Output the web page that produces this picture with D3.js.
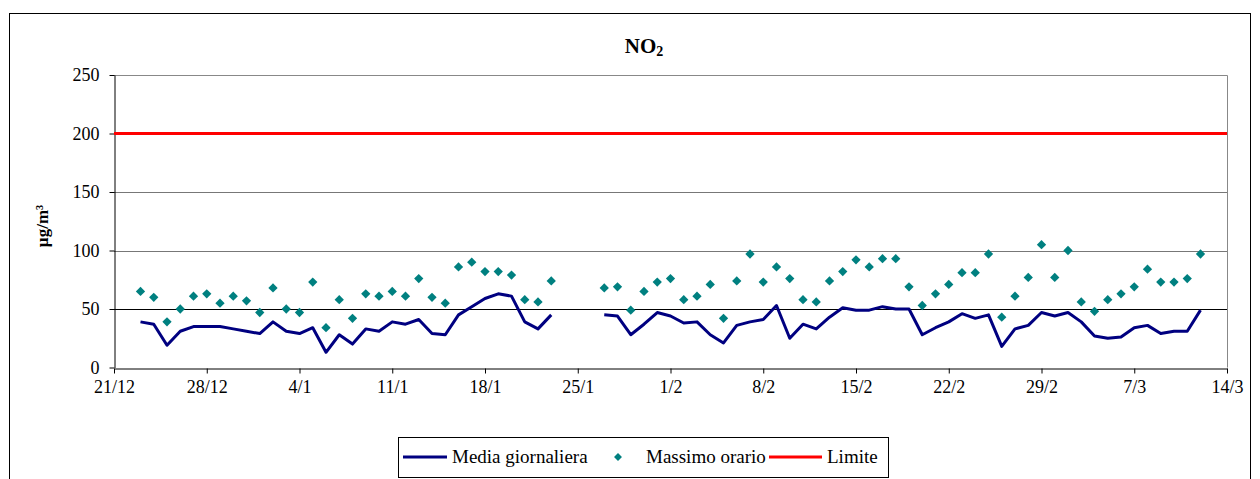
<!DOCTYPE html>
<html><head><meta charset="utf-8">
<script src="https://cdn.jsdelivr.net/npm/d3@7"></script>
<style>
html,body{margin:0;padding:0;background:#fff;}
svg, svg text{font-family:"Liberation Serif","Times New Roman",serif !important;}
</style></head>
<body><svg id="c" width="1260" height="479"></svg>
<script>
// ---- data ----
const startDay = "2007-12-23"; // first observation
const axisStart = "2007-12-21", axisEnd = "2008-03-14";
const tickLabels = ["21/12","28/12","4/1","11/1","18/1","25/1","1/2","8/2","15/2","22/2","29/2","7/3","14/3"];
const yTicks = [0,50,100,150,200,250];
const mediaGiornaliera = [39,37,19,31,35,35,35,33,31,29,39,31,29,34,13,28,20,33,31,39,37,41,29,28,45,52,59,63,61,39,33,45,
  null,null,null,
  45,44,28,37,47,44,38,39,28,21,36,39,41,53,25,37,33,43,51,49,49,52,50,50,28,34,39,46,42,45,18,33,36,47,44,47,39,27,25,26,34,36,29,31,31,49];
const massimoOrario = [65,60,39,50,61,63,55,61,57,47,68,50,47,73,34,58,42,63,61,65,61,76,60,55,86,90,82,82,79,58,56,74,
  null,null,null,
  68,69,49,65,73,76,58,61,71,42,74,97,73,86,76,58,56,74,82,92,86,93,93,69,53,63,71,81,81,97,43,61,77,105,77,100,56,48,58,63,69,84,73,73,76,97];
const limite = 200;
const seriesNames = ["Media giornaliera","Massimo orario","Limite"];

// ---- build ----
const parse = d3.timeParse("%Y-%m-%d");
const d0 = parse(startDay);
const rows = mediaGiornaliera.map((v,i)=>({date:d3.timeDay.offset(d0,i), media:v, massimo:massimoOrario[i]}));

const svg = d3.select("#c");
const L=114, R=1227, T=75, B=367.5;
const x = d3.scaleTime().domain([parse(axisStart), parse(axisEnd)]).range([L,R]);
const y = d3.scaleLinear().domain([0,250]).range([B,T]);

// outer frame
svg.append("rect").attr("x",9.5).attr("y",13.5).attr("width",1241).attr("height",480)
  .attr("fill","#fff").attr("stroke","#000").attr("stroke-width",1);

// gridlines
svg.append("g").selectAll("line").data(yTicks.filter(t=>t>0 && t<250)).join("line")
  .attr("x1",L).attr("x2",R).attr("y1",d=>Math.round(y(d))+0.5).attr("y2",d=>Math.round(y(d))+0.5)
  .attr("stroke",d=>d===50?"#000":"#777").attr("stroke-width",1);
// plot border (top/right)
svg.append("path").attr("d",`M${L},${Math.round(T)+0.5}H${R+0.5}V${B}`).attr("fill","none").attr("stroke","#888");

// axes
const tickDates = d3.range(tickLabels.length).map(i=>d3.timeDay.offset(parse(axisStart),7*i));
const xAxis = d3.axisBottom(x).tickValues(tickDates).tickFormat((d,i)=>tickLabels[i]).tickSize(5).tickSizeOuter(0);
const gx = svg.append("g").attr("transform",`translate(0,${Math.round(B)+0.5})`).call(xAxis);
gx.attr("font-family",null);
gx.select(".domain").attr("stroke","#000");
gx.selectAll("text").attr("font-size",18).attr("fill","#000").attr("dy","0.9em");

const yAxis = d3.axisLeft(y).tickValues(yTicks).tickSize(5).tickSizeOuter(0).tickPadding(10);
const gy = svg.append("g").attr("transform",`translate(${L+0.5},0)`).call(yAxis);
gy.attr("font-family",null);
gy.selectAll("text").attr("font-size",18).attr("fill","#000");

// limit line
svg.append("line").attr("x1",L).attr("x2",R).attr("y1",y(limite)).attr("y2",y(limite))
  .attr("stroke","#ff0000").attr("stroke-width",3);

// media line
const line = d3.line().defined(d=>d.media!=null).x(d=>x(d.date)).y(d=>y(d.media));
svg.append("path").datum(rows).attr("d",line).attr("fill","none").attr("stroke","#000080")
  .attr("stroke-width",3).attr("stroke-linejoin","round");

// massimo diamonds
const diamond = d3.symbol().type(d3.symbolDiamond2).size(55);
svg.append("g").selectAll("path").data(rows.filter(d=>d.massimo!=null)).join("path")
  .attr("d",diamond).attr("transform",d=>`translate(${x(d.date)},${y(d.massimo)})`).attr("fill","#008080");

// title
const title = svg.append("text").attr("x",644).attr("y",53).attr("text-anchor","middle")
  .attr("font-size",21).attr("font-weight","bold");
title.append("tspan").text("NO");
title.append("tspan").attr("font-size",14).attr("dy",3).text("2");

// y label
svg.append("text").attr("transform","translate(48,226) rotate(-90)").attr("text-anchor","middle")
  .attr("font-size",17).attr("font-weight","bold").text("µg/m³");

// legend
const lg = svg.append("g");
lg.append("rect").attr("x",398.5).attr("y",437.5).attr("width",490).attr("height",40).attr("fill","#fff").attr("stroke","#000");
lg.append("line").attr("x1",403).attr("x2",447).attr("y1",457).attr("y2",457).attr("stroke","#000080").attr("stroke-width",3);
lg.append("text").attr("x",452).attr("y",463).attr("font-size",19).text(seriesNames[0]);
lg.append("path").attr("d",d3.symbol().type(d3.symbolDiamond2).size(40)).attr("transform","translate(618,457)").attr("fill","#008080");
lg.append("text").attr("x",646).attr("y",463).attr("font-size",19).text(seriesNames[1]);
lg.append("line").attr("x1",769).attr("x2",822).attr("y1",457).attr("y2",457).attr("stroke","#ff0000").attr("stroke-width",3);
lg.append("text").attr("x",827).attr("y",463).attr("font-size",19).text(seriesNames[2]);
</script></body></html>
